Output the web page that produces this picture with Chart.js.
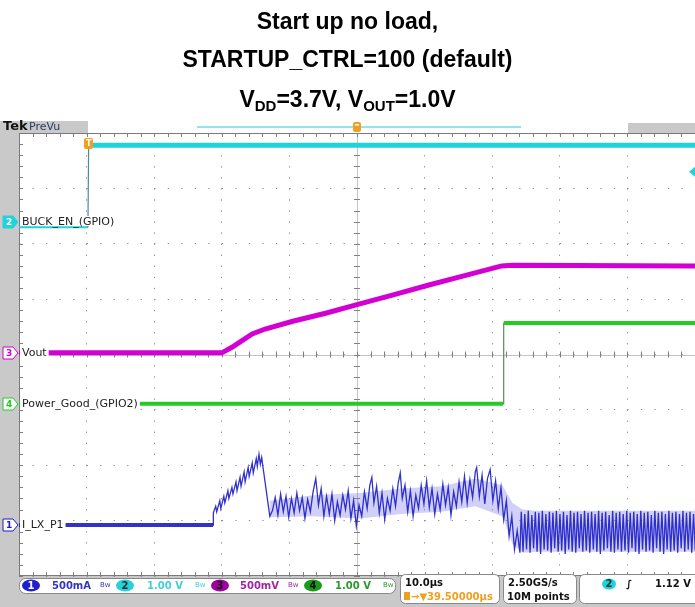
<!DOCTYPE html>
<html>
<head>
<meta charset="utf-8">
<script src="https://cdn.jsdelivr.net/npm/chart.js@4.4.1/dist/chart.umd.min.js"></script>
<style>
  body { margin: 0; background: #fff; }
  #wrap { position: relative; width: 695px; height: 607px; overflow: hidden; }
  #scope { position: absolute; left: 0; top: 0; }
  .ttl { position: absolute; left: 0; width: 695px; height: 24px; line-height: 24px; text-align: center;
         font: bold 23px "Liberation Sans", Arial, sans-serif; color: #000; }
  .ttl sub { font-size: 15px; vertical-align: -4px; line-height: 0; }
</style>
</head>
<body>
<div id="wrap">
  <canvas id="scope" width="695" height="607"></canvas>
  <div class="ttl" style="top:8px">Start up no load,</div>
  <div class="ttl" style="top:46px">STARTUP_CTRL=100 (default)</div>
  <div class="ttl" style="top:86px">V<sub>DD</sub>=3.7V, V<sub>OUT</sub>=1.0V</div>
</div>
<script>
// horizontal graticule: 10 us/div, trigger at 0, centre at 39.5 us
const timeTicks = [-10.5, -0.5, 9.5, 19.5, 29.5, 39.5, 49.5, 59.5, 69.5, 79.5, 89.5];
const divTicks = [-4, -3, -2, -1, 0, 1, 2, 3, 4];

// channel ground position (divisions from centre) and scale per division
const chanPos = { ch1: -3.08, ch2: 2.39, ch3: 0.03, ch4: -0.89 };
const chanPerDiv = { ch1: 0.5, ch2: 1.0, ch3: 0.5, ch4: 1.0 };
const chanLabels = { ch1: 'I_LX_P1', ch2: 'BUCK_EN_(GPIO)', ch3: 'Vout', ch4: 'Power_Good_(GPIO2)' };

// [time us, volts]
const buckEn = [[-10.5, -0.09], [-0.3, -0.09], [-0.2, 1.39], [89.5, 1.39]];
const vout = [[-10.5, 0.0], [19.5, 0.0], [21.0, 0.05], [22.5, 0.11], [24.0, 0.17], [25.9, 0.215],
  [30.0, 0.285], [35.0, 0.36], [39.5, 0.435], [45.0, 0.525], [50.0, 0.61], [55.0, 0.69],
  [60.9, 0.785], [62.5, 0.79], [89.5, 0.785]];
const powerGood = [[-10.5, 0.0], [61.1, 0.0], [61.2, 1.46], [89.5, 1.46]];

// [time us, amps] inductor current up to the end of soft start
const iLx = [[-10.5, 0.0], [18.2, 0.0],
  [18.25, 0.11], [18.6, 0.17], [18.75, 0.12], [19.2, 0.22], [19.35, 0.15], [19.8, 0.26], [19.95, 0.20],
  [20.4, 0.31], [20.55, 0.24], [21.0, 0.34], [21.15, 0.28], [21.6, 0.39], [21.75, 0.31], [22.2, 0.43],
  [22.35, 0.35], [22.8, 0.48], [22.95, 0.39], [23.4, 0.52], [23.55, 0.44], [24.0, 0.56], [24.15, 0.47],
  [24.6, 0.60], [24.75, 0.53], [25.0, 0.64], [25.2, 0.55], [25.4, 0.61], [25.6, 0.52], [26.6, 0.08],
  [27.0, 0.13], [27.4, 0.25], [27.8, 0.09], [28.2, 0.28], [28.6, 0.12], [29.0, 0.26], [29.4, 0.07],
  [29.8, 0.24], [30.2, 0.11], [30.6, 0.29], [31.0, 0.13], [31.4, 0.25], [31.8, 0.06], [32.2, 0.23],
  [32.6, 0.12], [33.0, 0.30], [33.4, 0.42], [33.8, 0.18], [34.2, 0.33], [34.6, 0.08], [35.0, 0.26],
  [35.4, 0.10], [35.8, 0.28], [36.2, 0.04], [36.6, 0.21], [37.0, 0.09], [37.4, 0.27], [37.8, 0.14],
  [38.2, 0.31], [38.6, 0.06], [39.0, 0.22], [39.4, -0.01], [39.8, 0.18], [40.2, 0.08], [40.6, 0.30],
  [41.0, 0.15], [41.4, 0.36], [41.7, 0.43], [42.0, 0.20], [42.4, 0.35], [42.8, 0.11], [43.2, 0.29],
  [43.6, 0.05], [44.0, 0.24], [44.4, 0.13], [44.8, 0.33], [45.2, 0.17], [45.6, 0.38], [45.9, 0.47],
  [46.2, 0.24], [46.6, 0.36], [47.0, 0.12], [47.4, 0.31], [47.8, 0.08], [48.2, 0.27], [48.6, 0.15],
  [49.0, 0.36], [49.4, 0.19], [49.8, 0.40], [50.2, 0.16], [50.6, 0.33], [51.0, 0.10], [51.4, 0.28],
  [51.8, 0.14], [52.2, 0.37], [52.6, 0.18], [53.0, 0.34], [53.4, 0.09], [53.8, 0.30], [54.2, 0.17],
  [54.6, 0.39], [55.0, 0.21], [55.4, 0.44], [55.8, 0.20], [56.2, 0.41], [56.6, 0.25], [57.0, 0.48],
  [57.2, 0.52], [57.6, 0.26], [58.0, 0.45], [58.4, 0.19], [58.8, 0.42], [59.2, 0.50], [59.6, 0.22],
  [60.0, 0.40], [60.4, 0.15], [60.8, 0.34], [61.2, 0.05], [61.6, 0.22], [62.0, -0.10], [62.4, 0.08],
  [62.8, -0.22], [63.2, -0.05], [63.6, -0.25]];

// steady switching after power good, one sample every 0.26 us
const iLxTailStart = 63.8;
const iLxTailStep = 0.26;
const iLxTail = [0.12, -0.24, 0.10, -0.22, 0.13, -0.25, 0.09, -0.21, 0.12, -0.24,
  0.11, -0.26, 0.13, -0.22, 0.10, -0.23, 0.12, -0.25, 0.11, -0.21,
  0.13, -0.24, 0.10, -0.23, 0.12, -0.26, 0.09, -0.22, 0.13, -0.24,
  0.11, -0.25, 0.12, -0.21, 0.10, -0.24, 0.13, -0.23, 0.11, -0.25,
  0.12, -0.22, 0.10, -0.24, 0.13, -0.26, 0.11, -0.23, 0.12, -0.21,
  0.09, -0.24, 0.13, -0.25, 0.11, -0.22, 0.12, -0.24, 0.10, -0.23,
  0.13, -0.25, 0.11, -0.21, 0.12, -0.24, 0.10, -0.26, 0.13, -0.22,
  0.11, -0.24, 0.12, -0.23, 0.09, -0.25, 0.13, -0.21, 0.11, -0.24,
  0.12, -0.26, 0.10, -0.22, 0.13, -0.24, 0.11, -0.23, 0.12, -0.25,
  0.10, -0.21, 0.13, -0.24, 0.11, -0.22, 0.12, -0.25, 0.10, -0.23];

// persistence envelope of the current trace
const iLxUpper = [[26.6, 0.22], [33.0, 0.27], [40.0, 0.29], [46.0, 0.33], [52.0, 0.35], [57.0, 0.42],
  [61.0, 0.36], [62.5, 0.20], [64.0, 0.14], [66.0, 0.13], [89.5, 0.13]];
const iLxLower = [[26.6, 0.07], [33.0, 0.08], [40.0, 0.06], [46.0, 0.10], [52.0, 0.12], [57.0, 0.17],
  [61.0, 0.08], [62.5, -0.17], [64.0, -0.25], [66.0, -0.24], [89.5, -0.24]];

const colors = { ch1: '#1c1cc4', ch2: '#1fd3dc', ch3: '#d200d2', ch4: '#22cc22' };

function toDiv(pairs, ch) {
  return pairs.map(([t, v]) => ({ x: t, y: chanPos[ch] + v / chanPerDiv[ch] }));
}

const tailPairs = iLxTail.map((v, i) => [iLxTailStart + i * iLxTailStep, v]);

const isStep = (c) => Math.abs(c.p1.parsed.y - c.p0.parsed.y) > 0.5 && Math.abs(c.p1.parsed.x - c.p0.parsed.x) < 0.3;

const scopeDecor = {
  id: 'scopeDecor',
  beforeDraw(chart) {
    const { ctx, chartArea: a } = chart;
    ctx.save();
    ctx.fillStyle = '#fff';
    ctx.fillRect(0, 0, chart.width, chart.height);
    ctx.fillStyle = '#c9c9c9';
    ctx.fillRect(0, a.top - 12, a.left, chart.height - a.top + 12);
    ctx.fillRect(0, a.top - 12, 88, 12);
    ctx.fillRect(0, a.bottom, chart.width, chart.height - a.bottom);
    ctx.fillRect(628, a.top - 10, chart.width - 628, 10);
    ctx.font = 'bold 13px "DejaVu Sans", sans-serif';
    ctx.fillStyle = '#111';
    ctx.textBaseline = 'middle';
    ctx.fillText('Tek', 3, a.top - 6);
    ctx.font = '11px "DejaVu Sans", sans-serif';
    ctx.fillStyle = '#2c3a68';
    ctx.fillText('PreVu', 29, a.top - 6);
    // record view bar
    ctx.strokeStyle = '#6fdde4';
    ctx.lineWidth = 1.5;
    ctx.beginPath();
    ctx.moveTo(197, a.top - 6);
    ctx.lineTo(521, a.top - 6);
    ctx.stroke();
    ctx.restore();
  },
  beforeDatasetsDraw(chart) {
    const { ctx, chartArea: a, scales } = chart;
    const divW = (a.right - a.left) / 10, divH = (a.bottom - a.top) / 8;
    const cx = scales.x.getPixelForValue(39.5), cy = scales.y.getPixelForValue(0);
    ctx.save();
    ctx.strokeStyle = '#c4c4c4';
    ctx.lineWidth = 1;
    ctx.beginPath();
    ctx.moveTo(Math.round(cx) + 0.5, a.top); ctx.lineTo(Math.round(cx) + 0.5, a.bottom);
    ctx.moveTo(a.left, Math.round(cy) + 0.5); ctx.lineTo(a.right, Math.round(cy) + 0.5);
    ctx.stroke();
    ctx.strokeStyle = '#808080';
    ctx.beginPath();
    for (let i = 0; i <= 50; i++) {
      const x = Math.round(a.left + i * divW / 5) + 0.5;
      ctx.moveTo(x, cy - 3); ctx.lineTo(x, cy + 3);
      ctx.moveTo(x, a.top); ctx.lineTo(x, a.top + 4);
      ctx.moveTo(x, a.bottom); ctx.lineTo(x, a.bottom - 4);
    }
    for (let j = 0; j <= 40; j++) {
      const y = Math.round(a.top + j * divH / 5) + 0.5;
      ctx.moveTo(cx - 3, y); ctx.lineTo(cx + 3, y);
      ctx.moveTo(a.left, y); ctx.lineTo(a.left + 4, y);
    }
    ctx.stroke();
    ctx.strokeStyle = '#7a7a7a';
    ctx.strokeRect(a.left + 0.5, a.top + 0.5, a.right - a.left, a.bottom - a.top - 1);
    ctx.restore();
  },
  afterDatasetsDraw(chart) {
    const { ctx, chartArea: a, scales } = chart;
    ctx.save();
    ctx.textBaseline = 'middle';
    // channel labels and ground markers
    ['ch2', 'ch3', 'ch4', 'ch1'].forEach((ch) => {
      const y = Math.round(scales.y.getPixelForValue(chanPos[ch]));
      ctx.font = '11px "DejaVu Sans", sans-serif';
      const w = ctx.measureText(chanLabels[ch]).width;
      ctx.fillStyle = '#fff';
      ctx.fillRect(a.left + 1, y - 6, w + 4, ch === 'ch2' ? 10 : 12);
      ctx.fillStyle = '#222';
      ctx.fillText(chanLabels[ch], a.left + 3, y);
      ctx.beginPath();
      ctx.moveTo(3, y - 6); ctx.lineTo(13, y - 6); ctx.lineTo(18, y); ctx.lineTo(13, y + 6); ctx.lineTo(3, y + 6);
      ctx.closePath();
      ctx.fillStyle = ch === 'ch2' ? colors.ch2 : '#fff';
      ctx.fill();
      ctx.strokeStyle = colors[ch];
      ctx.lineWidth = 1;
      ctx.stroke();
      ctx.fillStyle = ch === 'ch2' ? '#fff' : colors[ch];
      ctx.font = 'bold 9px "DejaVu Sans", sans-serif';
      ctx.fillText(ch.slice(2), 6, y + 0.5);
    });
    // trigger marker on the trace
    const tx = scales.x.getPixelForValue(-0.3);
    ctx.fillStyle = '#f0a020';
    ctx.beginPath(); ctx.roundRect(tx - 4, a.top + 5, 9, 11, 2); ctx.fill();
    ctx.fillStyle = '#fff';
    ctx.font = 'bold 8px "DejaVu Sans", sans-serif';
    ctx.fillText('T', tx - 2, a.top + 10.5);
    // delay marker at top centre
    const cx = scales.x.getPixelForValue(39.5);
    ctx.fillStyle = '#f0a020';
    ctx.beginPath(); ctx.roundRect(cx - 4, a.top - 11, 8, 10, 2); ctx.fill();
    ctx.fillStyle = '#fff';
    ctx.fillRect(cx - 2, a.top - 9, 4, 1.5);
    // trigger level arrow
    const ly = scales.y.getPixelForValue(3.3);
    ctx.fillStyle = colors.ch2;
    ctx.beginPath(); ctx.moveTo(689, ly); ctx.lineTo(695, ly - 5); ctx.lineTo(695, ly + 5); ctx.closePath(); ctx.fill();

    // status bar
    ctx.fillStyle = '#fff';
    ctx.strokeStyle = '#888';
    ctx.lineWidth = 1;
    ctx.beginPath(); ctx.roundRect(19.5, 578.5, 376, 15, 6); ctx.fill(); ctx.stroke();
    const chips = [
      { x: 31, n: '1', fill: '#1e1ed2', txt: '#fff', tx: 52, label: '500mA', col: '#3535c0', bw: 104 },
      { x: 125, n: '2', fill: '#2ad0d8', txt: '#033', tx: 147, label: '1.00 V', col: '#3fd0d8', bw: 199 },
      { x: 220, n: '3', fill: '#a000a0', txt: '#111', tx: 240, label: '500mV', col: '#a424a4', bw: 292 },
      { x: 313, n: '4', fill: '#1a9a1a', txt: '#111', tx: 335, label: '1.00 V', col: '#2a9a2a', bw: 387 }
    ];
    chips.forEach((c) => {
      ctx.fillStyle = c.fill;
      ctx.beginPath(); ctx.ellipse(c.x, 585.5, 9, 6, 0, 0, Math.PI * 2); ctx.fill();
      ctx.fillStyle = c.txt;
      ctx.font = 'bold 10px "DejaVu Sans", sans-serif';
      ctx.textAlign = 'center';
      ctx.fillText(c.n, c.x, 586);
      ctx.textAlign = 'left';
      ctx.fillStyle = c.col;
      ctx.font = 'bold 10px "DejaVu Sans", sans-serif';
      ctx.fillText(c.label, c.tx, 586);
      ctx.font = '7px "DejaVu Sans", sans-serif';
      ctx.fillText('Bw', c.bw - 4, 585);
    });
    ctx.fillStyle = '#fff';
    ctx.strokeStyle = '#888';
    ctx.beginPath(); ctx.roundRect(400.5, 574.5, 99, 29, 5); ctx.fill(); ctx.stroke();
    ctx.beginPath(); ctx.roundRect(503.5, 574.5, 73, 29, 5); ctx.fill(); ctx.stroke();
    ctx.beginPath(); ctx.roundRect(579.5, 574.5, 130, 29, 5); ctx.fill(); ctx.stroke();
    ctx.font = 'bold 10px "DejaVu Sans", sans-serif';
    ctx.fillStyle = '#111';
    ctx.fillText('10.0µs', 405, 583);
    ctx.fillText('2.50GS/s', 508, 583);
    ctx.fillText('10M points', 507, 597);
    ctx.fillText('1.12 V', 655, 584);
    ctx.fillStyle = '#f0a020';
    ctx.fillRect(404, 592, 6, 8);
    ctx.fillText('→▼39.50000µs', 411, 597);
    ctx.fillStyle = colors.ch2;
    ctx.beginPath(); ctx.ellipse(609, 584, 7, 5.5, 0, 0, Math.PI * 2); ctx.fill();
    ctx.fillStyle = '#033';
    ctx.textAlign = 'center';
    ctx.fillText('2', 609, 584.5);
    ctx.fillStyle = '#111';
    ctx.fillText('∫', 629, 584);
    ctx.restore();
  }
};

new Chart(document.getElementById('scope'), {
  type: 'scatter',
  data: {
    datasets: [
      { label: 'BUCK_EN', data: toDiv(buckEn, 'ch2'), showLine: true, borderColor: colors.ch2, borderWidth: 5,
        pointRadius: 0, order: 2,
        segment: {
          borderWidth: (c) => isStep(c) ? 1.2 : (c.p0.parsed.y < 3 ? 2 : undefined),
          borderColor: (c) => isStep(c) ? '#4a8c90' : undefined
        } },
      { label: 'Vout', data: toDiv(vout, 'ch3'), showLine: true, borderColor: colors.ch3, borderWidth: 5,
        pointRadius: 0, order: 2 },
      { label: 'Power_Good', data: toDiv(powerGood, 'ch4'), showLine: true, borderColor: colors.ch4, borderWidth: 4,
        pointRadius: 0, order: 2,
        segment: {
          borderWidth: (c) => isStep(c) ? 1.2 : undefined,
          borderColor: (c) => isStep(c) ? '#5a8a5a' : undefined
        } },
      { label: 'I_LX', data: toDiv(iLx.concat(tailPairs), 'ch1'), showLine: true, borderColor: 'rgba(28,28,196,0.9)',
        borderWidth: 1.3, pointRadius: 0, order: 1,
        segment: { borderWidth: (c) => c.p1.parsed.x <= 18.2 ? 4 : undefined } },
      { label: 'I_LX upper', data: toDiv(iLxUpper, 'ch1'), showLine: true, borderWidth: 0, pointRadius: 0,
        backgroundColor: 'rgba(120,120,235,0.35)', fill: '+1', order: 5 },
      { label: 'I_LX lower', data: toDiv(iLxLower, 'ch1'), showLine: true, borderWidth: 0, pointRadius: 0,
        order: 5 }
    ]
  },
  options: {
    responsive: false,
    animation: false,
    devicePixelRatio: 1,
    layout: { padding: { left: 19, top: 133, right: 0, bottom: 31 } },
    plugins: { legend: { display: false }, tooltip: { enabled: false }, title: { display: false } },
    scales: {
      x: {
        type: 'linear', min: -10.5, max: 89.5,
        afterBuildTicks: (s) => { s.ticks = timeTicks.map((v) => ({ value: v })); },
        ticks: { display: false },
        grid: { color: '#8e8e8e', lineWidth: 1, drawTicks: false },
        border: { display: false, dash: [1.3, 9.76] }
      },
      y: {
        type: 'linear', min: -4, max: 4,
        afterBuildTicks: (s) => { s.ticks = divTicks.map((v) => ({ value: v })); },
        ticks: { display: false },
        grid: { color: '#8e8e8e', lineWidth: 1, drawTicks: false },
        border: { display: false, dash: [1.3, 12.22] }
      }
    }
  },
  plugins: [scopeDecor]
});
</script>
</body>
</html>
